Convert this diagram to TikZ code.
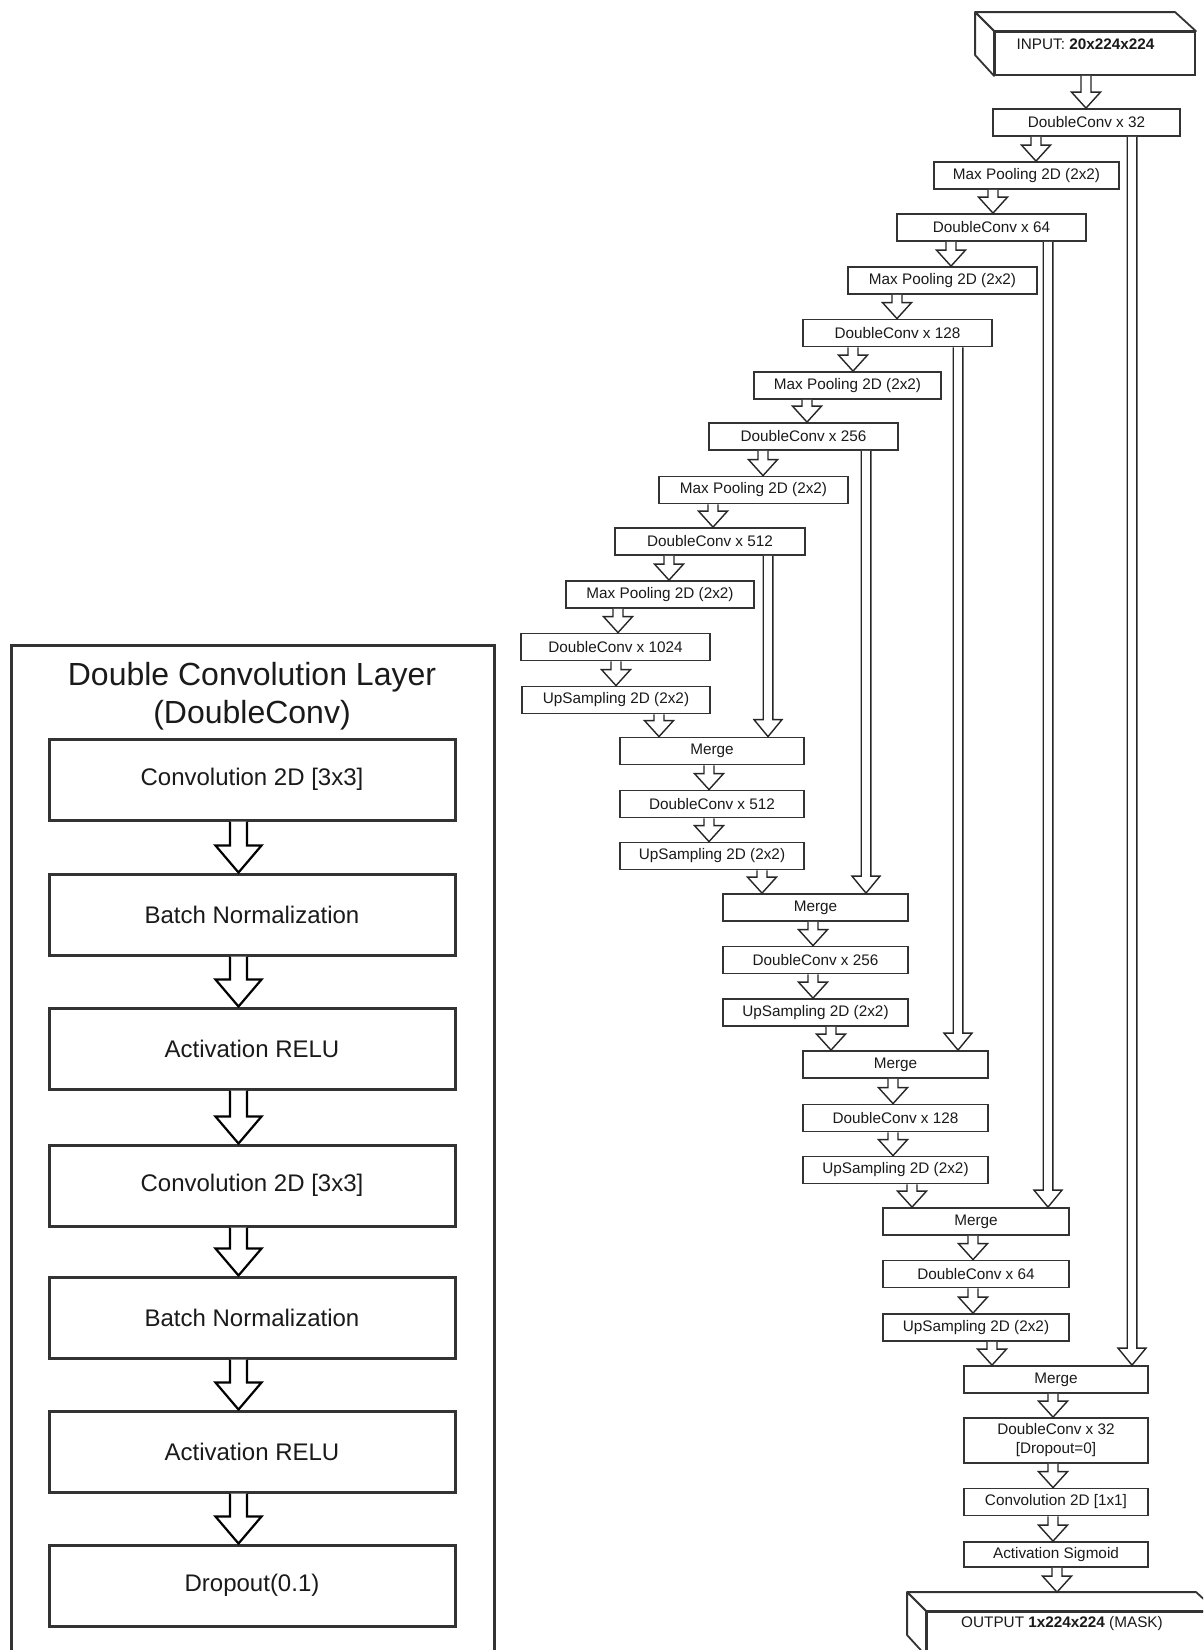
\documentclass[tikz,border=0pt]{standalone}
\usepackage{fontspec}
\setmainfont{Liberation Sans}
\usetikzlibrary{calc}
\definecolor{ln}{HTML}{333333}
\definecolor{tx}{HTML}{1A1A1A}
% generic hollow block arrow: style, from point, to point, x, shaft half, head half, head length
\newcommand\bga[7]{%
 \draw[#1] let \p1=#2, \p2=#3 in
 ({#4pt-#5pt},\y1) -- ({#4pt-#5pt},{\y2+#7pt}) -- ({#4pt-#6pt},{\y2+#7pt}) -- (#4pt,\y2)
 -- ({#4pt+#6pt},{\y2+#7pt}) -- ({#4pt+#5pt},{\y2+#7pt}) -- ({#4pt+#5pt},\y1);}
\newcommand\rarr[3]{\bga{rarrow}{#1}{#2}{#3}{5}{14.5}{16}}
\newcommand\skiparr[3]{\bga{rarrow}{#1}{#2}{#3}{4.8}{14}{17}}
\newcommand\larr[3]{\bga{larrow}{#1}{#2}{#3}{8.5}{23}{27}}
\tikzset{
 rbox/.style={draw=ln, line width=1.8pt, fill=white, inner sep=0pt, minimum height=27pt,
   font=\fontsize{15.3}{19}\selectfont, text=tx, align=center},
 lbox/.style={draw=ln, line width=3pt, fill=white, inner sep=0pt, minimum width=406pt,
   minimum height=81pt, font=\fontsize{24}{28}\selectfont, text=tx},
 rarrow/.style={draw=black!85, line width=1.4pt, fill=white, line join=miter},
 larrow/.style={draw=black, line width=2.2pt, fill=white, line join=miter},
 face/.style={draw=ln, line width=1.8pt, fill=white, line join=round},
 rtext/.style={font=\fontsize{15.3}{19}\selectfont, text=tx, inner sep=0pt}
}
\begin{document}
\begin{tikzpicture}[x=1pt,y=-1pt]
\useasboundingbox (0,0) rectangle (1203,1650);
\clip (0,0) rectangle (1203,1650);
\fill[white] (0,0) rectangle (1203,1650);

% ---------------- left panel ----------------
\node[draw=ln, line width=3pt, minimum width=483pt, minimum height=1060pt, inner sep=0pt] (panel) at (252.5,1175) {};
\node[font=\fontsize{32}{38}\selectfont, align=center, text=tx] (title) at (252,696) {Double Convolution Layer\\(DoubleConv)};
\node[lbox] (l1) at (252,779.5) {Convolution 2D [3x3]};
\node[lbox] (l2) at (252,914.5) {Batch Normalization};
\node[lbox] (l3) at (252,1048.5) {Activation RELU};
\node[lbox] (l4) at (252,1185.5) {Convolution 2D [3x3]};
\node[lbox] (l5) at (252,1317.5) {Batch Normalization};
\node[lbox] (l6) at (252,1451.5) {Activation RELU};
\node[lbox] (l7) at (252,1585.5) {Dropout(0.1)};
\larr{(l1.south)}{(l2.north)}{238.5}
\larr{(l2.south)}{(l3.north)}{238.5}
\larr{(l3.south)}{(l4.north)}{238.5}
\larr{(l4.south)}{(l5.north)}{238.5}
\larr{(l5.south)}{(l6.north)}{238.5}
\larr{(l6.south)}{(l7.north)}{238.5}

% ---------------- input cube ----------------
\node[rbox, minimum width=200pt, minimum height=43pt] (input) at (1095,53.5) {};
\draw[face] (input.north west) -- ++(-19,-19) -- ++(200,0) -- (input.north east) -- cycle;
\draw[face] (input.north west) -- ++(-19,-19) -- ++(0,43) -- (input.south west) -- cycle;
\node[rtext] (intxt) at ($(input.center)+(-9.5,-9.5)$) {INPUT: \textbf{20x224x224}};

% ---------------- encoder ----------------
\node[rbox, minimum width=187pt] (dc32) at (1086.5,122.5) {DoubleConv x 32};
\node[rbox, minimum width=185pt] (mp1) at (1026.5,175.5) {Max Pooling 2D (2x2)};
\node[rbox, minimum width=189pt] (dc64) at (991.5,227.5) {DoubleConv x 64};
\node[rbox, minimum width=189pt] (mp2) at (942.5,280.5) {Max Pooling 2D (2x2)};
\node[rbox, minimum width=189pt] (dc128) at (897.5,333) {DoubleConv x 128};
\node[rbox, minimum width=187pt] (mp3) at (847.5,385.5) {Max Pooling 2D (2x2)};
\node[rbox, minimum width=189pt] (dc256) at (803.5,436.5) {DoubleConv x 256};
\node[rbox, minimum width=189pt] (mp4) at (753.5,490) {Max Pooling 2D (2x2)};
\node[rbox, minimum width=190pt] (dc512) at (710,541.5) {DoubleConv x 512};
\node[rbox, minimum width=188pt] (mp5) at (660,594.5) {Max Pooling 2D (2x2)};
\node[rbox, minimum width=189pt] (dc1024) at (615.5,647) {DoubleConv x 1024};
\node[rbox, minimum width=188pt] (up1) at (616,700) {UpSampling 2D (2x2)};

% ---------------- decoder ----------------
\node[rbox, minimum width=184pt] (mg1) at (712,751) {Merge};
\node[rbox, minimum width=184pt] (dc512u) at (712,804) {DoubleConv x 512};
\node[rbox, minimum width=184pt] (up512) at (712,856) {UpSampling 2D (2x2)};
\node[rbox, minimum width=185pt] (mg2) at (815.5,907.5) {Merge};
\node[rbox, minimum width=185pt] (dc256u) at (815.5,960) {DoubleConv x 256};
\node[rbox, minimum width=185pt] (up256) at (815.5,1012.5) {UpSampling 2D (2x2)};
\node[rbox, minimum width=185pt] (mg3) at (895.5,1064.5) {Merge};
\node[rbox, minimum width=185pt] (dc128u) at (895.5,1118) {DoubleConv x 128};
\node[rbox, minimum width=185pt] (up128) at (895.5,1170) {UpSampling 2D (2x2)};
\node[rbox, minimum width=186pt] (mg4) at (976,1221.5) {Merge};
\node[rbox, minimum width=186pt] (dc64u) at (976,1274) {DoubleConv x 64};
\node[rbox, minimum width=186pt] (up64) at (976,1327.5) {UpSampling 2D (2x2)};
\node[rbox, minimum width=184pt] (mg5) at (1056,1379.5) {Merge};
\node[rbox, minimum width=184pt, minimum height=45pt] (dc32d) at (1056,1440.5) {DoubleConv x 32\\{[}Dropout=0{]}};
\node[rbox, minimum width=184pt] (conv11) at (1056,1502) {Convolution 2D [1x1]};
\node[rbox, minimum width=184pt, minimum height=25pt] (sigm) at (1056,1554.5) {Activation Sigmoid};

% ---------------- output cube ----------------
\node[rbox, minimum width=289pt, minimum height=43pt] (output) at (1071.5,1633.5) {};
\draw[face] (output.north west) -- ++(-19,-19) -- ++(289,0) -- (output.north east) -- cycle;
\draw[face] (output.north west) -- ++(-19,-19) -- ++(0,43) -- (output.south west) -- cycle;
\node[rtext] (outtxt) at ($(output.center)+(-9.5,-9.5)$) {OUTPUT \textbf{1x224x224} (MASK)};
\coordinate (outtop) at ($(output.north)+(0,-19)$);

% ---------------- flow arrows ----------------
\rarr{(input.south)}{(dc32.north)}{1086}
\rarr{(dc32.south)}{(mp1.north)}{1036}
\rarr{(mp1.south)}{(dc64.north)}{993}
\rarr{(dc64.south)}{(mp2.north)}{951}
\rarr{(mp2.south)}{(dc128.north)}{897}
\rarr{(dc128.south)}{(mp3.north)}{853}
\rarr{(mp3.south)}{(dc256.north)}{807}
\rarr{(dc256.south)}{(mp4.north)}{763}
\rarr{(mp4.south)}{(dc512.north)}{713}
\rarr{(dc512.south)}{(mp5.north)}{669}
\rarr{(mp5.south)}{(dc1024.north)}{618}
\rarr{(dc1024.south)}{(up1.north)}{616}
\rarr{(up1.south)}{(mg1.north)}{659}
\rarr{(mg1.south)}{(dc512u.north)}{709}
\rarr{(dc512u.south)}{(up512.north)}{709}
\rarr{(up512.south)}{(mg2.north)}{762}
\rarr{(mg2.south)}{(dc256u.north)}{813}
\rarr{(dc256u.south)}{(up256.north)}{813}
\rarr{(up256.south)}{(mg3.north)}{831}
\rarr{(mg3.south)}{(dc128u.north)}{893}
\rarr{(dc128u.south)}{(up128.north)}{893}
\rarr{(up128.south)}{(mg4.north)}{912}
\rarr{(mg4.south)}{(dc64u.north)}{973}
\rarr{(dc64u.south)}{(up64.north)}{973}
\rarr{(up64.south)}{(mg5.north)}{992}
\rarr{(mg5.south)}{(dc32d.north)}{1053}
\rarr{(dc32d.south)}{(conv11.north)}{1053}
\rarr{(conv11.south)}{(sigm.north)}{1053}
\rarr{(sigm.south)}{(outtop)}{1057}

% ---------------- skip connections ----------------
\skiparr{(dc32.south)}{(mg5.north)}{1132}
\skiparr{(dc64.south)}{(mg4.north)}{1048}
\skiparr{(dc128.south)}{(mg3.north)}{958}
\skiparr{(dc256.south)}{(mg2.north)}{866}
\skiparr{(dc512.south)}{(mg1.north)}{768}
\end{tikzpicture}
\end{document}
